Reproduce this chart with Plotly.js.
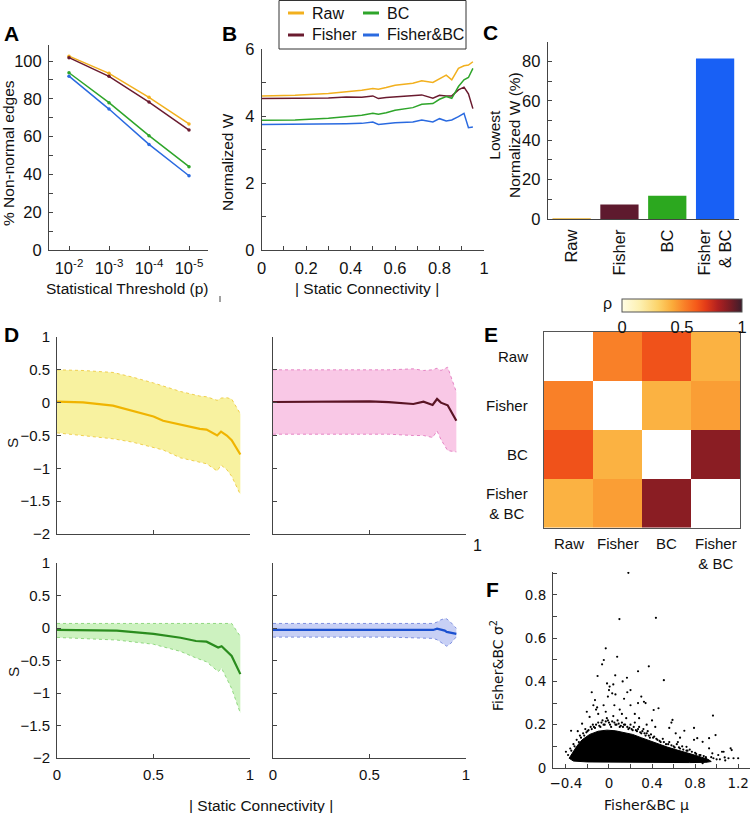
<!DOCTYPE html>
<html><head><meta charset="utf-8">
<script src="https://cdn.plot.ly/plotly-3.0.1.min.js"></script>
<style>html,body{margin:0;padding:0;background:#fff}#plot{width:750px;height:813px}</style>
</head><body><div id="plot"></div>
<script>
// ---------------- DATA ----------------
const seriesNames = ['Raw','Fisher','BC','Fisher&BC'];
// Panel A
const thresholdLabels = ['10<sup>-2</sup>','10<sup>-3</sup>','10<sup>-4</sup>','10<sup>-5</sup>'];
const A_raw    = [102.6, 93.5, 80.8, 66.7];
const A_fisher = [101.8, 91.9, 78.3, 63.5];
const A_bc     = [93.8, 78.0, 60.5, 44.1];
const A_fbc    = [92.0, 74.6, 55.9, 39.3];
// Panel B
const B_x      = [0, 0.15, 0.3, 0.38, 0.45, 0.5, 0.525, 0.56, 0.6, 0.68, 0.72, 0.77, 0.8, 0.83, 0.855, 0.885, 0.91, 0.93, 0.95];
const B_raw    = [4.6, 4.62, 4.67, 4.72, 4.77, 4.82, 4.8, 4.85, 4.92, 4.98, 5.05, 5.0, 5.12, 5.22, 5.08, 5.42, 5.5, 5.52, 5.62];
const B_fisher = [4.52, 4.52, 4.54, 4.57, 4.56, 4.6, 4.52, 4.55, 4.57, 4.6, 4.63, 4.53, 4.62, 4.6, 4.6, 4.78, 4.86, 4.66, 4.22];
const B_bc     = [3.87, 3.88, 3.93, 3.97, 4.02, 4.08, 4.05, 4.1, 4.17, 4.25, 4.35, 4.37, 4.5, 4.58, 4.53, 4.88, 5.08, 5.15, 5.42];
const B_fbc    = [3.75, 3.75, 3.76, 3.77, 3.78, 3.82, 3.75, 3.78, 3.8, 3.82, 3.88, 3.82, 3.92, 3.85, 3.88, 3.98, 4.08, 3.65, 3.67];
// Panel C
const barLabels = ['Raw','Fisher','BC','Fisher<br>& BC'];
const barValues = [0.4, 7.3, 11.8, 81.5];
// Panel D
const D_raw_x     = [0, 0.135, 0.29, 0.39, 0.5, 0.55, 0.64, 0.74, 0.775, 0.83, 0.85, 0.88, 0.905, 0.95];
const D_raw_mean  = [0.015, 0.005, -0.046, -0.12, -0.21, -0.276, -0.34, -0.40, -0.41, -0.5, -0.44, -0.5, -0.57, -0.79];
const D_raw_up    = [0.5, 0.49, 0.46, 0.39, 0.3, 0.25, 0.17, 0.1, 0.09, 0.035, 0.07, 0.075, 0.055, -0.17];
const D_raw_lo    = [-0.46, -0.5, -0.55, -0.6, -0.68, -0.72, -0.84, -0.91, -0.93, -1.04, -0.95, -1.02, -1.12, -1.4];
const D_fis_x     = [0, 0.2, 0.4, 0.5, 0.6, 0.727, 0.78, 0.827, 0.85, 0.87, 0.905, 0.95];
const D_fis_mean  = [0.01, 0.01, 0.012, 0.02, 0.008, -0.02, 0.015, -0.035, 0.056, 0.0, -0.04, -0.275];
const D_fis_up    = [0.5, 0.5, 0.5, 0.51, 0.5, 0.515, 0.49, 0.5, 0.525, 0.49, 0.54, 0.16];
const D_fis_lo    = [-0.48, -0.48, -0.48, -0.475, -0.48, -0.5, -0.5, -0.53, -0.43, -0.56, -0.73, -0.75];
const D_bc_x      = [0, 0.31, 0.5, 0.64, 0.72, 0.775, 0.835, 0.853, 0.905, 0.95];
const D_bc_mean   = [-0.03, -0.04, -0.09, -0.15, -0.2, -0.21, -0.3, -0.28, -0.43, -0.71];
const D_bc_up     = [0.07, 0.07, 0.07, 0.07, 0.07, 0.07, 0.07, 0.06, 0.07, -0.13];
const D_bc_lo     = [-0.145, -0.185, -0.25, -0.36, -0.46, -0.52, -0.67, -0.62, -0.93, -1.31];
const D_fbc_x     = [0, 0.3, 0.6, 0.83, 0.85, 0.865, 0.89, 0.9, 0.917, 0.95];
const D_fbc_mean  = [-0.03, -0.03, -0.03, -0.03, -0.01, -0.02, -0.04, -0.06, -0.07, -0.09];
const D_fbc_up    = [0.07, 0.07, 0.07, 0.07, 0.09, 0.12, 0.147, 0.14, 0.1, -0.005];
const D_fbc_lo    = [-0.14, -0.14, -0.14, -0.16, -0.18, -0.21, -0.26, -0.28, -0.25, -0.135];
// Panel E
const heatCats = ['Raw','Fisher','BC','Fisher<br>& BC'];
const heatZ = [
  [null, 0.52, 0.64, 0.40],
  [0.52, null, 0.40, 0.45],
  [0.64, 0.40, null, 0.87],
  [0.40, 0.45, 0.87, null]
];
const cbTicks = [0, 0.5, 1];
// Panel F : dense core outline + individual points
const F_core_x = [-0.37,-0.34,-0.3,-0.25,-0.18,-0.1,-0.02,0.06,0.14,0.22,0.3,0.38,0.46,0.54,0.62,0.7,0.78,0.86,0.92,0.95,0.9,0.75,0.5,0.25,0.0,-0.2,-0.33,-0.37];
const F_core_y = [0.045,0.07,0.1,0.13,0.155,0.17,0.175,0.172,0.165,0.155,0.14,0.125,0.11,0.097,0.085,0.072,0.062,0.05,0.04,0.03,0.026,0.025,0.025,0.025,0.026,0.028,0.032,0.045];
const F_pts_x = [0.18,0.097,0.436,-0.03,-0.048,0.076,-0.064,-0.106,0.058,0.167,0.27,0.37,0.51,-0.16,0.966,-0.352,-0.018,0.006,0.04,0.127,0.2,0.0,-0.01,0.03,0.06,0.3,0.325,0.27,0.34,0.415,0.46,0.59,0.58,0.56,-0.13,-0.145,-0.206,-0.18,-0.25,-0.29,0.05,0.14,0.2,-0.05,0.1,0.17,-0.12,-0.1,-0.11,0.7,0.79,0.82,0.93,0.99,1.13,1.157,1.075,1.015,1.065,0.93,0.9,0.87,0.96,1.2,1.11,1.05,1.14,0.87,0.72,0.79,
  -0.3,-0.27,-0.24,-0.22,-0.2,-0.17,-0.15,-0.13,-0.1,-0.08,-0.06,-0.04,-0.02,0.0,0.02,0.04,0.06,0.08,0.1,0.12,0.14,0.16,0.18,0.2,0.22,0.24,0.26,0.28,0.3,0.32,0.34,0.36,0.38,0.42,0.45,0.48,0.5,0.53,0.56,0.6,0.63,0.66,0.68,0.72,0.75,0.8,0.84,0.88,0.95,1.0,-0.38,-0.4,-0.36,-0.33,0.62,0.66,0.64,0.43,0.4,0.35,0.28,0.24,0.12,-0.03,
  -0.35,-0.32,-0.28,-0.26,-0.23,-0.21,-0.19,-0.16,-0.14,-0.12,-0.09,-0.07,-0.05,-0.03,-0.01,0.01,0.03,0.05,0.07,0.09,0.11,0.13,0.15,0.17,0.19,0.21,0.23,0.25,0.27,0.29,0.31,0.33,0.35,0.37,0.39,0.41,0.44,0.47,0.51,0.55,0.58,0.61,0.65,0.69,0.73,0.77,0.81,0.85,0.9,0.97,1.03,1.08];
const F_pts_y = [0.902,0.688,0.694,0.553,0.499,0.514,0.479,0.425,0.428,0.417,0.447,0.47,0.406,0.35,0.242,0.172,0.391,0.376,0.386,0.4,0.36,0.36,0.33,0.345,0.34,0.33,0.306,0.3,0.3,0.268,0.276,0.222,0.21,0.185,0.314,0.29,0.26,0.236,0.205,0.17,0.29,0.32,0.29,0.29,0.27,0.35,0.27,0.25,0.28,0.172,0.185,0.138,0.138,0.152,0.091,0.045,0.049,0.06,0.075,0.091,0.045,0.022,0.068,0.045,0.045,0.075,0.083,0.121,0.098,0.13,
  0.13,0.15,0.16,0.18,0.17,0.19,0.2,0.185,0.21,0.19,0.22,0.2,0.23,0.21,0.19,0.24,0.2,0.22,0.19,0.21,0.2,0.23,0.18,0.2,0.175,0.21,0.17,0.19,0.16,0.18,0.15,0.17,0.14,0.145,0.13,0.12,0.135,0.11,0.12,0.1,0.11,0.09,0.1,0.08,0.085,0.07,0.06,0.055,0.05,0.04,0.06,0.075,0.09,0.11,0.16,0.14,0.12,0.19,0.22,0.2,0.23,0.25,0.25,0.26,
  0.08,0.1,0.12,0.14,0.15,0.165,0.175,0.18,0.19,0.2,0.195,0.21,0.2,0.215,0.22,0.2,0.215,0.21,0.2,0.205,0.195,0.19,0.2,0.19,0.185,0.18,0.19,0.175,0.18,0.165,0.17,0.16,0.16,0.15,0.155,0.14,0.135,0.125,0.12,0.11,0.105,0.095,0.095,0.085,0.08,0.075,0.065,0.06,0.05,0.045,0.04,0.035];

// ---------------- STYLE ----------------
const W = 750, H = 813;
const C_RAW = '#f2b01e', C_FIS = '#6a1b2f', C_BC = '#2ea52a', C_FBC = '#2a6ae0';
const FONT = 'Liberation Sans, Arial, Helvetica, sans-serif';
const DJ = 'DejaVu Sans, sans-serif';
const px = x => x / W, py = y => 1 - y / H;
const dom = (a, b) => [a / W, b / W];
const vdom = (t, b) => [1 - b / H, 1 - t / H];
function ax(o) {
  return Object.assign({showline:true, linecolor:'#444', linewidth:1, ticks:'inside', ticklen:4,
    tickcolor:'#444', showgrid:false, zeroline:false, tickfont:{size:16.5, color:'#111', family:FONT},
    fixedrange:true, ticklabelstandoff:3}, o);
}

const traces = [];
// Panel A
const aIdx = thresholdLabels.map((_, i) => i);
[[A_raw,C_RAW],[A_fisher,C_FIS],[A_bc,C_BC],[A_fbc,C_FBC]].forEach(([v,c]) => {
  traces.push({type:'scatter', mode:'lines+markers', x:aIdx, y:v, xaxis:'x', yaxis:'y',
    line:{color:c, width:1.5}, marker:{color:c, size:3.5}, hoverinfo:'skip'});
});
// Panel B
[[B_raw,C_RAW],[B_fisher,C_FIS],[B_bc,C_BC],[B_fbc,C_FBC]].forEach(([v,c]) => {
  traces.push({type:'scatter', mode:'lines', x:B_x, y:v, xaxis:'x2', yaxis:'y2',
    line:{color:c, width:1.5}, hoverinfo:'skip'});
});
// Panel C
traces.push({type:'bar', x:barLabels, y:barValues, xaxis:'x3', yaxis:'y3',
  marker:{color:['#e9b032','#5e1a2e','#2ca81f','#1860f5']}, hoverinfo:'skip'});
// Panel D
const dSpecs = [
  [D_raw_x, D_raw_mean, D_raw_up, D_raw_lo, '#f0b400', '#f8f2a0', '#f0d050', 'x4','y4'],
  [D_fis_x, D_fis_mean, D_fis_up, D_fis_lo, '#5a1424', '#f9c8e6', '#e585c5', 'x5','y5'],
  [D_bc_x, D_bc_mean, D_bc_up, D_bc_lo, '#2a8c1e', '#cdf2c0', '#90d880', 'x6','y6'],
  [D_fbc_x, D_fbc_mean, D_fbc_up, D_fbc_lo, '#1a50d0', '#c8d0f5', '#7f90e0', 'x7','y7']
];
dSpecs.forEach(([x,m,u,l,cm,cf,cb,xa,ya]) => {
  traces.push({type:'scatter', mode:'lines', x:x, y:u, xaxis:xa, yaxis:ya,
    line:{color:cb, width:1, dash:'dot'}, hoverinfo:'skip'});
  traces.push({type:'scatter', mode:'lines', x:x, y:l, xaxis:xa, yaxis:ya, fill:'tonexty', fillcolor:cf,
    line:{color:cb, width:1, dash:'dot'}, hoverinfo:'skip'});
  traces.push({type:'scatter', mode:'lines', x:x, y:m, xaxis:xa, yaxis:ya,
    line:{color:cm, width:2.2}, hoverinfo:'skip'});
});
// Panel E
const CB_L = 622, CB_R = 742, CB_T = 299, CB_B = 312;
traces.push({type:'heatmap', x:heatCats, y:heatCats, z:heatZ, xaxis:'x8', yaxis:'y8', zmin:0, zmax:1,
  hoverinfo:'skip',
  colorscale:[[0,'#fffde4'],[0.15,'#fdf0b0'],[0.3,'#fcd36a'],[0.42,'#fbab3a'],[0.52,'#f98028'],
              [0.62,'#f55a1a'],[0.7,'#e23a18'],[0.8,'#b02020'],[0.9,'#7a1c24'],[1,'#3c1e2c']],
  colorbar:{orientation:'h', x:px((CB_L+CB_R)/2), xanchor:'center', len:(CB_R-CB_L)/W, lenmode:'fraction',
    y:py(CB_T), yanchor:'top', thickness:CB_B-CB_T, thicknessmode:'pixels',
    ticks:'', outlinewidth:1, outlinecolor:'#555',
    tickvals:cbTicks, ticktext:cbTicks.map(String), ticklabeloverflow:'allow',
    tickfont:{size:16.5, family:FONT, color:'#111'}, xpad:0, ypad:0}
});
// Panel F
traces.push({type:'scatter', mode:'lines', x:F_core_x, y:F_core_y, xaxis:'x9', yaxis:'y9',
  fill:'toself', fillcolor:'#000', line:{color:'#000', width:1}, hoverinfo:'skip'});
traces.push({type:'scatter', mode:'markers', x:F_pts_x, y:F_pts_y, xaxis:'x9', yaxis:'y9',
  marker:{color:'#000', size:2.2}, hoverinfo:'skip'});

// ---------------- LAYOUT ----------------
const minorT = d => ({dtick:d, ticks:'inside', ticklen:4, tickcolor:'#444'});
const layout = {
  width:W, height:H, margin:{l:0,r:0,t:0,b:0}, showlegend:false,
  paper_bgcolor:'#fff', plot_bgcolor:'rgba(0,0,0,0)', font:{family:FONT, color:'#111', size:16},
  xaxis: ax({domain:dom(49,208), range:[-0.5,3.475], tickvals:aIdx, ticktext:thresholdLabels, anchor:'y'}),
  yaxis: ax({domain:vdom(45,250), range:[0,108.5], tickvals:[0,20,40,60,80,100], anchor:'x', minor:minorT(10)}),
  xaxis2: ax({domain:dom(261.7,484), range:[0,1], dtick:0.2, anchor:'y2', minor:minorT(0.1)}),
  yaxis2: ax({domain:vdom(49,250), range:[0,6], dtick:2, anchor:'x2', minor:minorT(1)}),
  xaxis3: ax({domain:dom(547.7,739), type:'category', range:[-0.5,3.5], tickangle:-90, ticks:'', anchor:'y3'}),
  yaxis3: ax({domain:vdom(41.7,219), range:[0,90], dtick:20, anchor:'x3', minor:minorT(10)}),
  xaxis4: ax({domain:dom(57,250), range:[0,1], tickvals:[0,0.5,1], showticklabels:false, anchor:'y4'}),
  yaxis4: ax({domain:vdom(337,534), range:[-2,1], dtick:0.5, anchor:'x4', tickfont:{size:15,family:FONT,color:'#111'}}),
  xaxis5: ax({domain:dom(273,466), range:[0,1], tickvals:[0,0.5,1], showticklabels:false, anchor:'y5'}),
  yaxis5: ax({domain:vdom(337,534), range:[-2,1], dtick:0.5, showticklabels:false, anchor:'x5'}),
  xaxis6: ax({domain:dom(57,250), range:[0,1], tickvals:[0,0.5,1], anchor:'y6', tickfont:{size:15,family:FONT,color:'#111'}}),
  yaxis6: ax({domain:vdom(563,758), range:[-2,1], dtick:0.5, anchor:'x6', tickfont:{size:15,family:FONT,color:'#111'}}),
  xaxis7: ax({domain:dom(273,466), range:[0,1], tickvals:[0,0.5,1], anchor:'y7', tickfont:{size:15,family:FONT,color:'#111'}}),
  yaxis7: ax({domain:vdom(563,758), range:[-2,1], dtick:0.5, showticklabels:false, anchor:'x7'}),
  xaxis8: ax({domain:dom(544,740), type:'category', ticks:'', showticklabels:false, mirror:true, linecolor:'#555', anchor:'y8'}),
  yaxis8: ax({domain:vdom(331.7,527.7), type:'category', autorange:'reversed', ticks:'', showticklabels:false, mirror:true, linecolor:'#555', anchor:'x8'}),
  xaxis9: ax({domain:dom(553,750), range:[-0.52,1.31], tick0:0, dtick:0.4, anchor:'y9', ticklabeloverflow:'allow',
             tickfont:{size:13.5,family:DJ,color:'#111'}, minor:minorT(0.2)}),
  yaxis9: ax({domain:vdom(571.7,768), range:[0,0.907], dtick:0.2, anchor:'x9',
             tickfont:{size:13.5,family:DJ,color:'#111'}, minor:minorT(0.1)}),
  shapes:[], annotations:[]
};

const ann = (text, x, y, o) => layout.annotations.push(Object.assign({text:text, xref:'paper', yref:'paper',
  x:px(x), y:py(y), showarrow:false, xanchor:'center', yanchor:'middle', font:{size:15.5, family:FONT, color:'#111'}}, o||{}));

// panel letters
[['A',11,34],['B',230,34],['C',491,32],['D',11,334],['E',491,334],['F',492,589]].forEach(([t,x,y]) =>
  ann('<b>'+t+'</b>', x, y, {font:{size:21, family:FONT, color:'#000'}}));
// axis titles
ann('% Non-normal edges', 8, 153, {textangle:-90});
ann('Statistical Threshold (p)', 127, 288);
ann('Normalized W', 228, 162, {textangle:-90});
ann('| Static Connectivity |', 367, 288);
ann('Lowest<br>Normalized W (%)', 505, 135, {textangle:-90});
ann('S', 13, 443, {textangle:-90});
ann('S', 13, 672, {textangle:-90});
ann('| Static Connectivity |', 261, 805);
ann('Fisher&BC σ<sup>2</sup>', 497, 665, {textangle:-90, font:{size:14, family:DJ, color:'#111'}});
ann('Fisher&BC μ', 646, 805, {font:{size:14, family:DJ, color:'#111'}});
ann('1', 477, 545, {font:{size:16, family:FONT, color:'#111'}});
ann('ρ', 607, 303, {font:{size:16, family:FONT, color:'#111'}});
// colorbar small inside ticks every 0.1
for (let k = 1; k < 10; k++) {
  const xx = CB_L + (CB_R - CB_L) * k / 10;
  layout.shapes.push({type:'line', xref:'paper', yref:'paper', x0:px(xx), x1:px(xx), y0:py(CB_T), y1:py(CB_T+3), line:{color:'#777', width:1}});
}
// heatmap labels
heatCats.forEach(c => {
  layout.annotations.push({text:c, xref:'x8', yref:'paper', x:c, y:py(533), yanchor:'top', xanchor:'center',
    showarrow:false, align:'center', font:{size:15, family:FONT, color:'#111'}});
  layout.annotations.push({text:c, xref:'paper', yref:'y8', x:px(530), y:c, xanchor:'right', yanchor:'middle',
    showarrow:false, align:'center', font:{size:15, family:FONT, color:'#111'}});
});
// legend (drawn manually)
layout.shapes.push({type:'rect', xref:'paper', yref:'paper', x0:px(279), x1:px(466), y0:py(0.5), y1:py(49),
  line:{color:'#333', width:1}, fillcolor:'#fff'});
[[seriesNames[0],C_RAW,288,13],[seriesNames[2],C_BC,363,13],[seriesNames[1],C_FIS,288,35],[seriesNames[3],C_FBC,363,35]].forEach(([t,c,x,y]) => {
  layout.shapes.push({type:'line', xref:'paper', yref:'paper', x0:px(x), x1:px(x+16), y0:py(y), y1:py(y), line:{color:c, width:3}});
  ann(t, x+22, y, {xanchor:'left', font:{size:16, family:FONT, color:'#111'}});
});
// stray tick mark
layout.shapes.push({type:'line', xref:'paper', yref:'paper', x0:px(220), x1:px(220), y0:py(296), y1:py(302), line:{color:'#444', width:1}});

Plotly.newPlot('plot', traces, layout, {staticPlot:true, displayModeBar:false});
</script></body></html>
